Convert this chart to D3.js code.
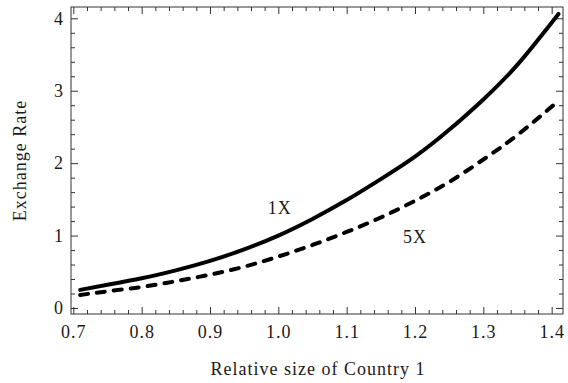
<!DOCTYPE html>
<html>
<head>
<meta charset="utf-8">
<script src="https://cdn.jsdelivr.net/npm/d3@7"></script>
<style>
  body { margin: 0; background: #fff; }
  svg { display: block; }
  text { font-family: "Liberation Serif", "Times New Roman", serif; fill: #1a1a1a; letter-spacing: 1px; }
</style>
</head>
<body>
<div id="chart"></div>
<script>
// Constants for the plot
const WIDTH = 568;
const HEIGHT = 383;
const FRAME = { LEFT: 71, RIGHT: 563, TOP: 7, BOTTOM: 314 };
const FONT = "Liberation Serif, Times New Roman, serif";

// Data
const sizes = [0.71, 0.75, 0.80, 0.85, 0.90, 0.95, 1.00, 1.05, 1.10, 1.15, 1.20, 1.25, 1.30, 1.35, 1.41];
const rate1X = [0.25, 0.32, 0.41, 0.52, 0.65, 0.81, 1.00, 1.23, 1.49, 1.78, 2.09, 2.46, 2.88, 3.36, 4.06];
const rate5X = [0.18, 0.23, 0.29, 0.37, 0.46, 0.57, 0.71, 0.87, 1.05, 1.25, 1.48, 1.74, 2.05, 2.39, 2.86];
const xTicks = [0.7, 0.8, 0.9, 1.0, 1.1, 1.2, 1.3, 1.4];
const yTicks = [0, 1, 2, 3, 4];
const curveLabels = [
  { text: "1X", x: 1.002, y: 1.38 },
  { text: "5X", x: 1.20, y: 0.98 }
];

const svg = d3.select("#chart").append("svg").attr("width", WIDTH).attr("height", HEIGHT);

const x = d3.scaleLinear().domain([0.6966, 1.4166]).range([FRAME.LEFT, FRAME.RIGHT]);
const y = d3.scaleLinear().domain([-0.083, 4.156]).range([FRAME.BOTTOM, FRAME.TOP]);

const xMinor = d3.range(0.70, 1.415, 0.02).filter(v => !xTicks.some(t => Math.abs(t - v) < 1e-6));
const yMinor = d3.range(0, 4.15, 0.2).filter(v => !yTicks.some(t => Math.abs(t - v) < 1e-6));

// frame with inward ticks on all four sides
function tickSide(axisFn, scale, pos, ticks, len, labels) {
  const g = svg.append("g").attr("transform", pos);
  g.call(axisFn(scale).tickValues(ticks).tickSizeInner(-len).tickSizeOuter(0)
    .tickFormat(labels ? labels : "").tickPadding(6));
  g.attr("font-family", FONT).attr("font-size", 18);
  g.select(".domain").remove();
  g.selectAll("line").attr("stroke", "#333").attr("stroke-width", 1);
  return g;
}

tickSide(d3.axisBottom, x, `translate(0,${FRAME.BOTTOM})`, xTicks, 7, d3.format(".1f"))
  .selectAll("text").attr("y", 23.5).attr("dy", 0);
tickSide(d3.axisBottom, x, `translate(0,${FRAME.BOTTOM})`, xMinor, 4, null);
tickSide(d3.axisTop, x, `translate(0,${FRAME.TOP})`, xTicks, 7, null);
tickSide(d3.axisTop, x, `translate(0,${FRAME.TOP})`, xMinor, 4, null);
tickSide(d3.axisLeft, y, `translate(${FRAME.LEFT},0)`, yTicks, 7, d3.format("d"))
  .selectAll("text").attr("x", -7);
tickSide(d3.axisLeft, y, `translate(${FRAME.LEFT},0)`, yMinor, 4, null);
tickSide(d3.axisRight, y, `translate(${FRAME.RIGHT},0)`, yTicks, 7, null);
tickSide(d3.axisRight, y, `translate(${FRAME.RIGHT},0)`, yMinor, 4, null);

svg.append("rect")
  .attr("x", FRAME.LEFT).attr("y", FRAME.TOP)
  .attr("width", FRAME.RIGHT - FRAME.LEFT).attr("height", FRAME.BOTTOM - FRAME.TOP)
  .attr("fill", "none").attr("stroke", "#333").attr("stroke-width", 1);

// curves
const line = d3.line().curve(d3.curveNatural).x((d, i) => x(sizes[i])).y(d => y(d));

svg.append("path").datum(rate1X)
  .attr("d", line).attr("fill", "none").attr("stroke", "#000")
  .attr("stroke-width", 4).attr("stroke-linecap", "round");

svg.append("path").datum(rate5X)
  .attr("d", line).attr("fill", "none").attr("stroke", "#000")
  .attr("stroke-width", 4).attr("stroke-linecap", "round")
  .attr("stroke-dasharray", "8,9");

svg.selectAll(".curve-label").data(curveLabels).enter().append("text")
  .attr("class", "curve-label")
  .attr("x", d => x(d.x)).attr("y", d => y(d.y))
  .attr("text-anchor", "middle").attr("dy", "0.35em")
  .attr("font-size", 18)
  .text(d => d.text);

// axis titles
svg.append("text")
  .attr("x", 318).attr("y", 375)
  .attr("text-anchor", "middle").attr("font-size", 18)
  .text("Relative size of Country 1");

svg.append("text")
  .attr("transform", `translate(26,${(FRAME.TOP + FRAME.BOTTOM) / 2}) rotate(-90)`)
  .attr("text-anchor", "middle").attr("font-size", 18)
  .text("Exchange Rate");
</script>
</body>
</html>
